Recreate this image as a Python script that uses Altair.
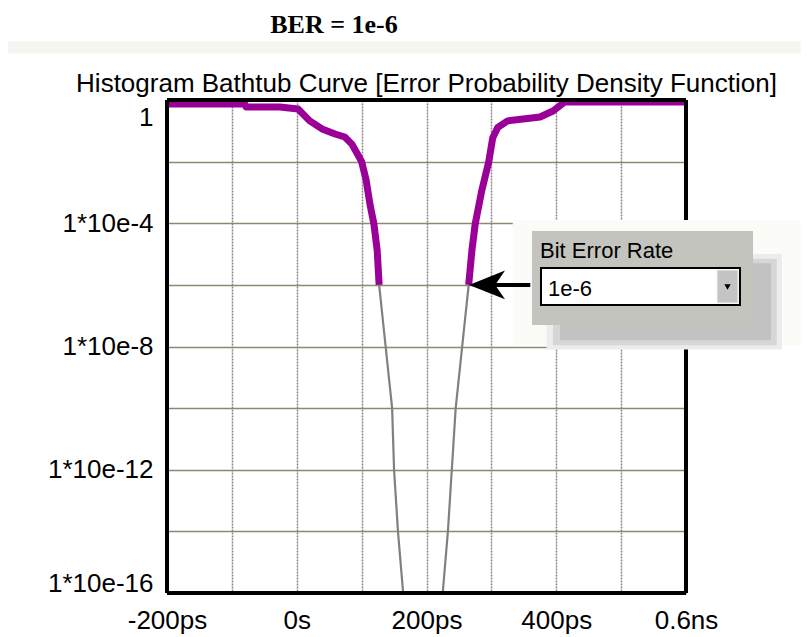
import altair as alt
import pandas as pd

# ---------------- data ----------------
# left edge of the bathtub (time in ps, error probability)
left_ps = [-200, -80, -78, -26, 2, 20, 39, 59, 74, 85, 94, 100, 107, 113, 119, 124, 127,
           137, 147, 150, 156, 164]
left_ber = [0.74, 0.74, 0.59, 0.59, 0.51, 0.21, 0.115, 0.079, 0.063, 0.037, 0.017, 1e-2,
            2.5e-3, 4e-4, 9.3e-5, 1.3e-5, 1e-6, 1e-8, 1e-10, 1e-12, 1e-14, 1e-16]
# right edge of the bathtub
right_ps = [225, 233, 239, 245, 255, 265, 270, 275, 285, 296, 302, 310, 325, 349, 375,
            395, 413, 600]
right_ber = [1e-16, 1e-14, 1e-12, 1e-10, 1e-8, 1e-6, 1.3e-5, 9.3e-5, 1.1e-3, 1e-2, 0.058,
             0.13, 0.21, 0.24, 0.28, 0.44, 0.86, 0.86]
ber_threshold = 1e-6

x_grid = [-200, -100, 0, 100, 200, 300, 400, 500, 600]
x_label_vals = [-200, 0, 200, 400, 600]
x_label_txt = ["-200ps", "0s", "200ps", "400ps", "0.6ns"]
y_grid = [1, 1e-2, 1e-4, 1e-6, 1e-8, 1e-10, 1e-12, 1e-14, 1e-16]
y_label_vals = [1, 1e-4, 1e-8, 1e-12, 1e-16]
y_label_txt = ["1", "1*10e-4", "1*10e-8", "1*10e-12", "1*10e-16"]

title_txt = "Histogram Bathtub Curve [Error Probability Density Function]"
ber_txt = "BER = 1e-6"
box_label = "Bit Error Rate"
box_value = "1e-6"

# ---------------- build tables ----------------
rows = []
for side, xs_, ys_ in (("left", left_ps, left_ber), ("right", right_ps, right_ber)):
    for p, v in zip(xs_, ys_):
        if v >= ber_threshold:
            rows.append({"ps": p, "ber": v, "side": side, "part": "above"})
        if v <= ber_threshold:
            rows.append({"ps": p, "ber": v, "side": side, "part": "below"})
curve = pd.DataFrame(rows)

def ternary(vals, txts, key):
    expr = "''"
    for v, t in zip(reversed(vals), reversed(txts)):
        expr = f"(abs({key} - ({v})) < 1e-9 ? '{t}' : {expr})"
    return expr

x_label_expr = ternary(x_label_vals, x_label_txt, "datum.value")
y_label_expr = ternary([0, 4, 8, 12, 16], y_label_txt, "round(-log(datum.value)/LN10)")

FONT = "Liberation Sans"

xscale = alt.Scale(domain=[-200, 600], nice=False, zero=False)
yscale = alt.Scale(type="log", domain=[1e-16, 1], nice=False)
xaxis = alt.Axis(values=x_grid, labelExpr=x_label_expr, title=None, ticks=False, domain=False,
                 grid=True, gridColor="#85858f", gridDash=[2, 1], gridWidth=1.5,
                 labelFont=FONT, labelFontSize=26, labelColor="black", labelPadding=14,
                 labelFlush=False, labelOverlap=False, labelBound=False)
yaxis = alt.Axis(values=y_grid, labelExpr=y_label_expr, title=None, ticks=False, domain=False,
                 grid=True, gridColor="#8b8b6b", gridWidth=1.6,
                 labelFont=FONT, labelFontSize=26, labelColor="black", labelPadding=14,
                 labelBaseline="middle", labelFlush=False, labelOverlap=False, labelBound=False,
                 labelOffset={"condition": [{"test": "datum.value > 0.5", "value": 17},
                                            {"test": "datum.value < 1e-15", "value": -10}],
                              "value": 0})

def X(f):
    return alt.X(f, type="quantitative", scale=xscale, axis=xaxis)

def Y(f):
    return alt.Y(f, type="quantitative", scale=yscale, axis=yaxis)

# gray (below threshold) and purple (above threshold) portions
gray_line = alt.Chart(curve).transform_filter(alt.datum.part == "below").mark_line(
    color="#808080", strokeWidth=2.2, strokeJoin="round").encode(
    x=X("ps"), y=Y("ber"), detail="side:N", order="ps:Q")
purple_line = alt.Chart(curve).transform_filter(alt.datum.part == "above").mark_line(
    color="#9a0098", strokeWidth=7, strokeJoin="round").encode(
    x=X("ps"), y=Y("ber"), detail="side:N", order="ps:Q")

# plot frame
frame = pd.DataFrame([
    {"x0": -200, "x1": 600, "y0": 1, "y1": 1},
    {"x0": -200, "x1": 600, "y0": 1e-16, "y1": 1e-16},
    {"x0": -200, "x1": -200, "y0": 1e-16, "y1": 1},
    {"x0": 600, "x1": 600, "y0": 1e-16, "y1": 1},
])
frame_rules = alt.Chart(frame).mark_rule(color="black", strokeWidth=4).encode(
    x=X("x0"), x2="x1", y=Y("y0"), y2="y1")

# faint dithered band under the heading
band = alt.Chart(pd.DataFrame([{"x0": -445, "x1": 777, "y0": 32, "y1": 80}])).mark_rect(
    color="#f6f6f0").encode(x=X("x0"), x2="x1", y=Y("y0"), y2="y1")

# "Bit Error Rate" drop-down annotation
rects = pd.DataFrame([
    {"x0": 333, "x1": 790, "y0": 1.12e-8, "y1": 1.28e-4, "fill": "#fbfbf8", "k": 0},
    {"x0": 385, "x1": 748, "y0": 8.0e-9, "y1": 1.0e-5, "fill": "#ececec", "k": 1},
    {"x0": 395, "x1": 740, "y0": 1.1e-8, "y1": 7.0e-6, "fill": "#d6d6d6", "k": 2},
    {"x0": 406, "x1": 731, "y0": 1.6e-8, "y1": 5.0e-6, "fill": "#c2c2c2", "k": 3},
    {"x0": 362.6, "x1": 703.3, "y0": 5.0e-8, "y1": 5.6e-5, "fill": "#c4c4be", "k": 4},
])
panel = alt.Chart(rects).mark_rect().encode(
    x=X("x0"), x2="x1", y=Y("y0"), y2="y1",
    color=alt.Color("fill:N", scale=None), order="k:Q")
white_box = alt.Chart(pd.DataFrame([{"x0": 376.5, "x1": 683.2, "y0": 2.22e-7, "y1": 3.53e-6}])).mark_rect(
    fill="white", stroke="black", strokeWidth=2).encode(x=X("x0"), x2="x1", y=Y("y0"), y2="y1")
button = alt.Chart(pd.DataFrame([{"x0": 647.8, "x1": 680.2, "y0": 2.58e-7, "y1": 3.04e-6}])).mark_rect(
    fill="#c4c4c4", stroke="#f0f0f0", strokeWidth=1).encode(x=X("x0"), x2="x1", y=Y("y0"), y2="y1")
button_tri = alt.Chart(pd.DataFrame([{"x": 664, "y": 8.5e-7}])).mark_point(
    shape="triangle-down", filled=True, color="black", size=40, opacity=1).encode(x=X("x"), y=Y("y"))
box_texts = alt.Chart(pd.DataFrame([
    {"x": 375, "y": 7.45e-6, "t": box_label},
    {"x": 387.3, "y": 4.35e-7, "t": box_value},
])).mark_text(align="left", baseline="alphabetic", font=FONT, fontSize=22, color="black").encode(
    x=X("x"), y=Y("y"), text="t:N")

# arrow pointing at the 1e-6 crossing
shaft = alt.Chart(pd.DataFrame([{"x0": 300, "x1": 360, "y": 1e-6}])).mark_rule(
    color="black", strokeWidth=4).encode(x=X("x0"), x2="x1", y=Y("y"))
head = alt.Chart(pd.DataFrame([{"x": 293.3, "y": 1e-6}])).mark_point(
    shape="M -1 0 L 1 -0.8 L 0.45 0 L 1 0.8 Z", filled=True, color="black", size=1296,
    opacity=1).encode(x=X("x"), y=Y("y"))

# heading and chart title, placed through the scales
heading = alt.Chart(pd.DataFrame([{"x": 57.4, "y": 149, "t": ber_txt}])).mark_text(
    align="center", baseline="alphabetic", font="Liberation Serif", fontWeight="bold",
    fontSize=26, color="black").encode(x=X("x"), y=Y("y"), text="t:N")
title_mark = alt.Chart(pd.DataFrame([{"x": 200, "y": 1.82, "t": title_txt}])).mark_text(
    align="center", baseline="alphabetic", font=FONT, fontSize=26, color="black").encode(
    x=X("x"), y=Y("y"), text="t:N")

chart = alt.layer(
    band, gray_line, purple_line, frame_rules, panel, white_box, button, button_tri,
    box_texts, shaft, head, heading, title_mark
).properties(
    width=519, height=493,
    autosize=alt.AutoSizeParams(type="none"),
    padding={"left": 159, "top": 92, "right": 115, "bottom": 44},
    background="white",
).configure_view(stroke=None)

chart.save("out.html", embed_options={"renderer": "svg", "actions": False})
